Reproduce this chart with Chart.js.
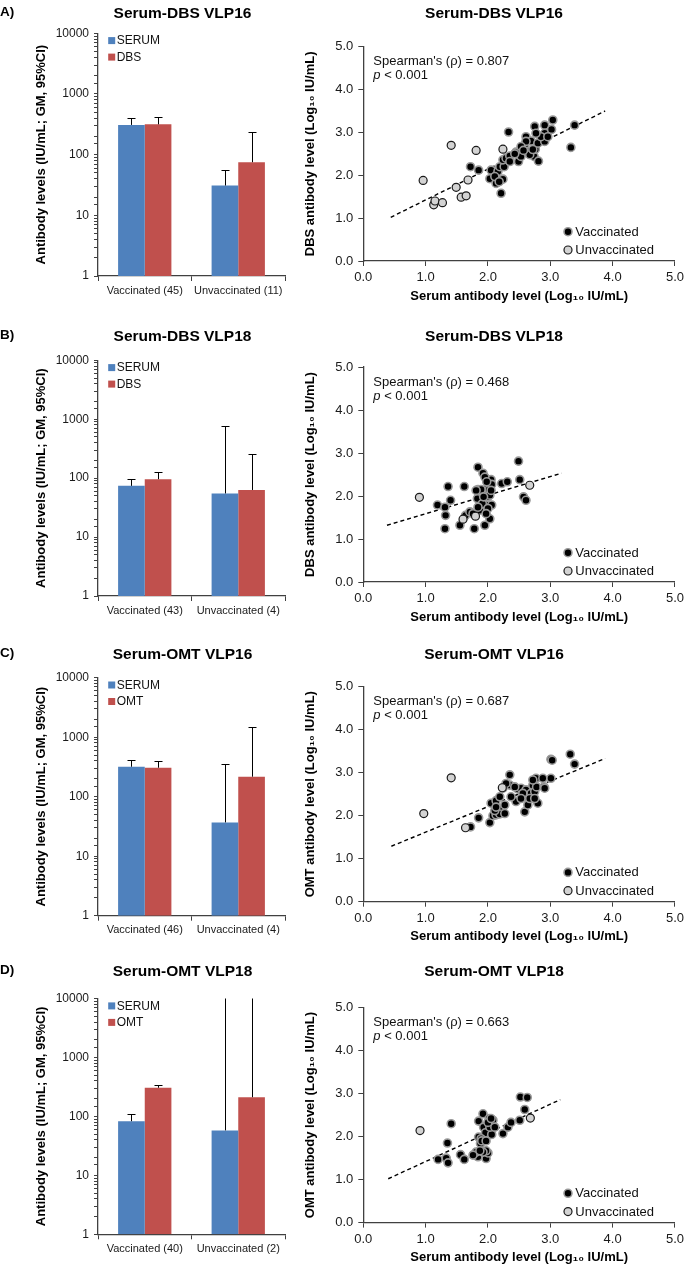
<!DOCTYPE html>
<html>
<head>
<meta charset="utf-8">
<script src="https://cdn.jsdelivr.net/npm/chart.js@4.4.1/dist/chart.umd.min.js"></script>
<style>
  html, body { margin: 0; padding: 0; background: #fff; overflow: hidden; }
  #fig { position: relative; width: 688px; height: 1265px; }
  #fig canvas { position: absolute; }
</style>
</head>
<body>
<div id="fig"></div>
<script>
// ---------- data ----------
const panelTags = ['A)', 'B)', 'C)', 'D)'];
const panelTitles = ['Serum-DBS VLP16', 'Serum-DBS VLP18', 'Serum-OMT VLP16', 'Serum-OMT VLP18'];
const sampleNames = ['DBS', 'DBS', 'OMT', 'OMT'];

const barTickLabels = [1, 10, 100, 1000, 10000];

// geometric means and upper 95% CI (IU/mL)
const categoriesA = ['Vaccinated (45)', 'Unvaccinated (11)'];
const serumA = [309, 31];
const serumUpperA = [398, 55];
const sampleA = [316, 75];
const sampleUpperA = [413, 235];

const categoriesB = ['Vaccinated (43)', 'Unvaccinated (4)'];
const serumB = [74, 55];
const serumUpperB = [95, 780];
const sampleB = [96, 63];
const sampleUpperB = [128, 252];

const categoriesC = ['Vaccinated (46)', 'Unvaccinated (4)'];
const serumC = [319, 37];
const serumUpperC = [413, 360];
const sampleC = [307, 217];
const sampleUpperC = [403, 1500];

const categoriesD = ['Vaccinated (40)', 'Unvaccinated (2)'];
const serumD = [83, 58];
const serumUpperD = [108, 100000];
const sampleD = [307, 212];
const sampleUpperD = [345, 100000];

// log10 serum vs log10 sample, [x, y]
const vaccA = [[1.72,2.20],[1.85,2.12],[2.03,1.92],[2.05,2.12],[2.13,1.81],[2.16,2.09],[2.19,2.20],[2.21,1.58],[2.24,1.91],[2.26,2.20],
  [2.24,2.36],[2.29,2.40],[2.33,3.01],[2.35,2.45],[2.45,2.54],[2.49,2.32],[2.53,2.44],[2.59,2.71],[2.61,2.90],[2.65,2.55],
  [2.69,2.80],[2.74,2.44],[2.75,3.14],[2.76,2.61],[2.80,2.75],[2.81,2.33],[2.91,2.79],[2.91,2.98],[2.91,3.17],[3.02,3.07],
  [3.04,3.29],[3.33,2.65],[3.39,3.17],[2.61,2.79],[2.43,2.50],[2.85,2.90],[2.53,2.67],[2.11,1.97],[2.18,1.85],[2.67,2.48],
  [2.35,2.32],[2.77,2.98],[2.96,2.90],[2.72,2.60],[2.57,2.58]];
const unvaccA = [[0.96,1.88],[1.13,1.31],[1.15,1.40],[1.27,1.36],[1.41,2.70],[1.49,1.72],[1.57,1.49],[1.65,1.52],[1.68,1.89],[1.81,2.58],[2.24,2.61]];
const trendA = [[0.44,1.02],[3.88,3.50]];

const vaccB = [[1.19,1.79],[1.31,1.74],[1.32,1.55],[1.31,1.24],[1.36,2.22],[1.40,1.90],[1.55,1.32],[1.64,1.55],[1.62,2.22],[1.78,1.24],
  [1.84,2.67],[1.83,1.94],[1.84,2.15],[1.87,1.67],[1.92,2.53],[1.95,1.32],[1.96,1.80],[1.97,2.15],[2.00,1.98],[2.02,2.15],
  [2.03,1.47],[2.05,2.38],[2.06,2.27],[2.06,1.79],[2.22,2.29],[2.31,2.33],[2.49,2.81],[2.51,2.38],[2.57,1.98],[2.61,1.90],
  [1.89,2.15],[1.95,2.44],[1.81,2.13],[1.91,1.82],[2.00,1.71],[1.71,1.63],[2.03,2.02],[1.98,2.33],[1.76,1.59],[1.84,1.74],
  [2.05,2.13],[1.93,1.98],[1.97,1.59]];
const unvaccB = [[0.90,1.97],[1.60,1.46],[1.80,1.53],[2.67,2.25]];
const trendB = [[0.38,1.32],[3.18,2.53]];

const vaccC = [[1.72,1.74],[1.85,1.95],[2.03,1.84],[2.05,2.29],[2.08,2.00],[2.13,2.35],[2.18,2.15],[2.13,2.02],[2.19,2.04],[2.27,2.05],
  [2.27,2.25],[2.19,2.44],[2.35,2.95],[2.35,2.71],[2.45,2.33],[2.48,2.62],[2.53,2.64],[2.59,2.09],[2.61,2.44],[2.61,2.60],
  [2.64,2.25],[2.69,2.52],[2.72,2.71],[2.75,2.56],[2.77,2.87],[2.80,2.29],[2.78,2.67],[2.88,2.87],[2.90,2.67],[2.91,2.64],
  [3.01,2.87],[3.01,3.31],[3.03,3.29],[3.32,3.43],[3.39,3.20],[2.43,2.67],[2.67,2.40],[2.56,2.52],[2.24,2.64],[2.11,2.12],
  [2.29,2.75],[2.75,2.40],[2.53,2.40],[2.37,2.44],[2.13,2.20],[2.72,2.83]];
const unvaccC = [[0.97,2.05],[1.41,2.88],[1.64,1.72],[2.23,2.65]];
const trendC = [[0.45,1.29],[3.88,3.33]];

const vaccD = [[1.20,1.47],[1.33,1.50],[1.36,1.39],[1.35,1.85],[1.41,2.30],[1.56,1.58],[1.62,1.47],[1.81,1.57],[1.84,1.53],[1.85,1.99],
  [1.85,2.36],[1.88,1.84],[1.92,2.53],[1.93,2.22],[1.96,2.09],[1.97,1.49],[2.00,1.62],[2.02,2.42],[2.05,2.30],[2.06,2.05],
  [2.08,2.38],[2.24,2.07],[2.32,2.22],[2.37,2.33],[2.51,2.38],[2.52,2.92],[2.63,2.91],[2.59,2.63],[1.89,1.95],[1.97,1.67],
  [1.81,1.64],[2.03,2.22],[1.92,1.64],[2.11,2.22],[2.00,2.33],[1.87,1.67],[1.90,1.90],[2.05,2.42],[1.76,1.57],[1.97,1.90]];
const unvaccD = [[0.91,2.14],[2.68,2.43]];
const trendD = [[0.40,1.02],[3.16,2.86]];

const spearmanRho = ['0.807', '0.468', '0.687', '0.663'];
const pValues = ['< 0.001', '< 0.001', '< 0.001', '< 0.001'];

// ---------- layout (page pixels) ----------
const rows = [
  {titleY: 14,    barTop: 33.3,  barBottom: 276,    scTop: 46.7,   scBottom: 261},
  {titleY: 336.7, barTop: 360,   barBottom: 595.7,  scTop: 366.7,  scBottom: 581.7},
  {titleY: 655,   barTop: 677.7, barBottom: 915.7,  scTop: 686.7,  scBottom: 901.7},
  {titleY: 971.7, barTop: 998.3, barBottom: 1234,   scTop: 1007.3, scBottom: 1222.3},
];
const CANVAS_H = 310;

const BLUE = '#4F81BD';
const RED = '#C0504D';
const AXIS = '#404040';
const FONT = "'Liberation Sans', Arial, sans-serif";

Chart.defaults.font.family = FONT;
Chart.defaults.color = '#1a1a1a';

const barPanels = [
  {categories: categoriesA, serum: serumA, serumUpper: serumUpperA, sample: sampleA, sampleUpper: sampleUpperA},
  {categories: categoriesB, serum: serumB, serumUpper: serumUpperB, sample: sampleB, sampleUpper: sampleUpperB},
  {categories: categoriesC, serum: serumC, serumUpper: serumUpperC, sample: sampleC, sampleUpper: sampleUpperC},
  {categories: categoriesD, serum: serumD, serumUpper: serumUpperD, sample: sampleD, sampleUpper: sampleUpperD},
];
const scatterPanels = [
  {vacc: vaccA, unvacc: unvaccA, trend: trendA},
  {vacc: vaccB, unvacc: unvaccB, trend: trendB},
  {vacc: vaccC, unvacc: unvaccC, trend: trendC},
  {vacc: vaccD, unvacc: unvaccD, trend: trendD},
];

// ---------- plugins ----------
const errorBars = {
  id: 'errorBars',
  afterDatasetsDraw(chart) {
    const {ctx, chartArea: a, scales: {y}} = chart;
    ctx.save();
    ctx.beginPath();
    ctx.rect(a.left, a.top, a.right - a.left, a.bottom - a.top);
    ctx.clip();
    ctx.strokeStyle = '#000';
    ctx.lineWidth = 1;
    chart.data.datasets.forEach((ds, i) => {
      chart.getDatasetMeta(i).data.forEach((bar, j) => {
        const x = Math.round(bar.x) + 0.5;
        const yTop = Math.round(y.getPixelForValue(ds.upper[j])) + 0.5;
        ctx.beginPath();
        ctx.moveTo(x, bar.y);
        ctx.lineTo(x, yTop);
        ctx.moveTo(x - 4, yTop);
        ctx.lineTo(x + 4, yTop);
        ctx.stroke();
      });
    });
    ctx.restore();
  }
};

const boxLegend = {
  id: 'boxLegend',
  afterDraw(chart, args, opts) {
    const {ctx, chartArea: a} = chart;
    ctx.save();
    ctx.font = '12px ' + FONT;
    ctx.textBaseline = 'middle';
    chart.data.datasets.forEach((ds, i) => {
      const y = a.top + opts.offsets[i];
      ctx.fillStyle = ds.backgroundColor;
      ctx.fillRect(a.left + 10.2, y - 3.5, 7, 7);
      ctx.fillStyle = '#111';
      ctx.fillText(ds.label, a.left + 18.7, y + 0.5);
    });
    // panel tag
    ctx.font = 'bold 13.5px ' + FONT;
    ctx.fillStyle = '#000';
    ctx.fillText(opts.tag, 0, 8.5);
    ctx.restore();
  }
};

const scatterNotes = {
  id: 'scatterNotes',
  afterDraw(chart, args, opts) {
    const {ctx, chartArea: a} = chart;
    ctx.save();
    ctx.fillStyle = '#111';
    ctx.textBaseline = 'middle';
    ctx.font = '13px ' + FONT;
    ctx.fillText("Spearman's (\u03C1) = " + opts.rho, a.left + 10, a.top + 15);
    ctx.font = 'italic 13px ' + FONT;
    ctx.fillText('p', a.left + 10, a.top + 29);
    const w = ctx.measureText('p ').width;
    ctx.font = '13px ' + FONT;
    ctx.fillText(opts.p, a.left + 10 + w, a.top + 29);

    const x = a.left + 204.7;
    opts.legend.forEach((label, k) => {
      const ds = chart.data.datasets.find(d => d.label === label);
      const y = a.bottom - (k === 0 ? 29.3 : 11);
      ctx.beginPath();
      ctx.arc(x, y, 4, 0, Math.PI * 2);
      ctx.fillStyle = ds.pointBackgroundColor;
      ctx.fill();
      ctx.lineWidth = ds.pointBorderWidth;
      ctx.strokeStyle = ds.pointBorderColor;
      ctx.stroke();
      ctx.fillStyle = '#111';
      ctx.font = '13px ' + FONT;
      ctx.fillText(label, x + 7.3, y + 0.5);
    });
    ctx.restore();
  }
};

function addCanvas(left, top, width, height) {
  const c = document.createElement('canvas');
  c.width = width;
  c.height = height;
  c.style.left = left + 'px';
  c.style.top = top + 'px';
  c.style.width = width + 'px';
  c.style.height = height + 'px';
  document.getElementById('fig').appendChild(c);
  return c;
}

function toXY(pairs) {
  return pairs.map(([x, y]) => ({x, y}));
}

function rightPad(width) {
  return {
    position: 'right',
    display: true,
    ticks: {display: false},
    grid: {display: false},
    border: {display: false},
    afterFit: s => { s.width = width; }
  };
}

function buildBar(i) {
  const row = rows[i];
  const p = barPanels[i];
  const top = row.titleY - 10;
  const xh = CANVAS_H - (row.barBottom - top);
  const canvas = addCanvas(0, top, 365, CANVAS_H);
  new Chart(canvas, {
    type: 'bar',
    data: {
      labels: p.categories,
      datasets: [
        {label: 'SERUM', data: p.serum, upper: p.serumUpper, backgroundColor: BLUE},
        {label: sampleNames[i], data: p.sample, upper: p.sampleUpper, backgroundColor: RED}
      ]
    },
    options: {
      responsive: false,
      animation: false,
      layout: {padding: 0},
      categoryPercentage: 0.57,
      barPercentage: 1,
      plugins: {
        legend: {display: false},
        tooltip: {enabled: false},
        title: {
          display: true,
          text: panelTitles[i],
          color: '#000',
          font: {size: 15.5, weight: 'bold'},
          padding: {top: 0.7, bottom: row.barTop - top - 19.3}
        },
        boxLegend: {offsets: [7.3, 23.8], tag: panelTags[i]}
      },
      scales: {
        x: {
          ticks: {font: {size: 11}, color: '#1a1a1a', padding: 3, maxRotation: 0, autoSkip: false},
          grid: {drawOnChartArea: false, tickLength: 5, color: AXIS, offset: true},
          border: {color: AXIS, width: 1.3},
          afterFit: s => { s.height = xh; }
        },
        y: {
          type: 'logarithmic',
          min: 1,
          max: 10000,
          ticks: {
            autoSkip: false,
            font: {size: 12},
            color: '#1a1a1a',
            padding: 5,
            callback: v => barTickLabels.includes(v) ? String(v) : ''
          },
          grid: {drawOnChartArea: false, tickLength: 4, color: AXIS},
          border: {color: AXIS, width: 1.3},
          title: {
            display: true,
            text: 'Antibody levels (IU/mL; GM, 95%CI)',
            color: '#000',
            font: {size: 13, weight: 'bold'},
            padding: {top: 33.9, bottom: 0}
          },
          afterFit: s => { s.width = 98; }
        },
        pad: rightPad(80)
      }
    },
    plugins: [errorBars, boxLegend]
  });
}

function buildScatter(i) {
  const row = rows[i];
  const p = scatterPanels[i];
  const top = row.titleY - 10;
  const xh = CANVAS_H - (row.scBottom - top);
  const canvas = addCanvas(300, top, 388, CANVAS_H);
  new Chart(canvas, {
    type: 'scatter',
    data: {
      datasets: [
        {
          label: 'Unvaccinated', data: toXY(p.unvacc),
          pointRadius: 4, pointHoverRadius: 4,
          pointBackgroundColor: '#d3d3d3', pointBorderColor: '#1a1a1a', pointBorderWidth: 1.2
        },
        {
          label: 'Vaccinated', data: toXY(p.vacc),
          pointRadius: 4, pointHoverRadius: 4,
          pointBackgroundColor: '#000', pointBorderColor: '#9a9a9a', pointBorderWidth: 1.6
        },
        {
          label: 'trend', type: 'line', data: toXY(p.trend),
          borderColor: '#000', borderWidth: 1.4, borderDash: [4, 3],
          pointRadius: 0, fill: false
        }
      ]
    },
    options: {
      responsive: false,
      animation: false,
      layout: {padding: 0},
      plugins: {
        legend: {display: false},
        tooltip: {enabled: false},
        title: {
          display: true,
          text: panelTitles[i],
          color: '#000',
          font: {size: 15.5, weight: 'bold'},
          padding: {top: 0.7, bottom: row.scTop - top - 19.3}
        },
        scatterNotes: {rho: spearmanRho[i], p: pValues[i], legend: ['Vaccinated', 'Unvaccinated']}
      },
      scales: {
        x: {
          type: 'linear',
          min: 0,
          max: 5,
          ticks: {stepSize: 1, font: {size: 13}, color: '#1a1a1a', padding: 4, callback: v => v.toFixed(1)},
          grid: {drawOnChartArea: false, tickLength: 5, color: AXIS},
          border: {color: AXIS, width: 1.3},
          title: {
            display: true,
            text: 'Serum antibody level (Log\u2081\u2080 IU/mL)',
            color: '#000',
            font: {size: 13, weight: 'bold'},
            padding: {top: 0, bottom: xh - 35 - 7.8}
          },
          afterFit: s => { s.height = xh; }
        },
        y: {
          type: 'linear',
          min: 0,
          max: 5,
          ticks: {stepSize: 1, font: {size: 13}, color: '#1a1a1a', padding: 5, callback: v => v.toFixed(1)},
          grid: {drawOnChartArea: false, tickLength: 5, color: AXIS},
          border: {color: AXIS, width: 1.3},
          title: {
            display: true,
            text: sampleNames[i] + ' antibody level (Log\u2081\u2080 IU/mL)',
            color: '#000',
            font: {size: 13, weight: 'bold'},
            padding: {top: 2.2, bottom: 0}
          },
          afterFit: s => { s.width = 63.3; }
        },
        pad: rightPad(12)
      }
    },
    plugins: [scatterNotes]
  });
}

for (let i = 0; i < rows.length; i++) {
  buildBar(i);
  buildScatter(i);
}
</script>
</body>
</html>
